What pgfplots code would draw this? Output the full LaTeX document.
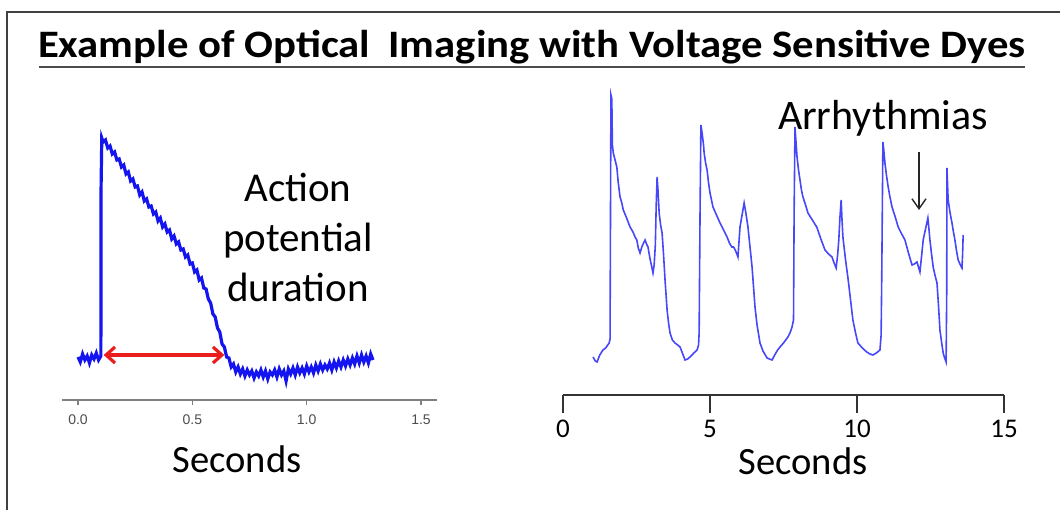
\documentclass[border=0pt]{standalone}
\usepackage{fontspec}
\setmainfont{Carlito}
\newfontfamily\arialfont{Liberation Sans}
\usepackage{pgfplots}
\pgfplotsset{compat=1.18}
\usetikzlibrary{arrows.meta}
\definecolor{apblue}{RGB}{20,20,240}
\definecolor{ecgblue}{RGB}{70,70,250}
\definecolor{apred}{RGB}{235,30,30}

\begin{document}
\begin{tikzpicture}[x=0.5bp,y=0.5bp]
\useasboundingbox (0,0) rectangle (1060,510);
% slide frame
\draw[line width=1.1bp, black!75] (7,0) -- (7,498) -- (1060,498);
% title
\node[anchor=base, inner sep=0pt] at (532,452)
  {\scalebox{1.155}[1.05]{\fontsize{18.5bp}{22bp}\selectfont\bfseries Example of Optical\hspace{0.2em} Imaging with Voltage Sensitive Dyes}};
\draw[line width=1bp, black!70] (39,443) -- (1025,443);

% left: single action potential
\begin{axis}[
    at={(31bp,55bp)}, anchor=south west,
    scale only axis, width=187.5bp, height=135bp,
    xmin=-0.07, xmax=1.57, ymin=0, ymax=270,
    axis x line=bottom, axis y line=none,
    x axis line style={-, gray, line width=1.2bp},
    xtick={0,0.5,1,1.5}, xticklabels={0.0,0.5,1.0,1.5},
    tick style={gray, line width=0.6bp}, tick align=outside,
    major tick length=2.5bp,
    xticklabel style={font=\arialfont\fontsize{7bp}{8bp}\selectfont, text=black!70, yshift=-1.5bp},
    /pgf/number format/assume math mode=true,
    clip=false,
]
\addplot[apblue, line width=1.6bp] coordinates {
(0.00,43) (0.01,38) (0.02,46) (0.03,40) (0.04,44) (0.05,37) (0.06,45) (0.07,41) (0.08,47) (0.09,40) (0.10,44)
(0.101,215) (0.104,262) (0.11,258) (0.12,260) (0.13,252) (0.14,254) (0.15,246) (0.16,248) (0.17,240) (0.18,241)
(0.19,233) (0.20,235) (0.21,226) (0.22,228) (0.23,219) (0.24,221) (0.25,213) (0.26,214) (0.27,205) (0.28,208)
(0.29,199) (0.30,201) (0.31,193) (0.32,194) (0.33,186) (0.34,188) (0.35,179) (0.36,182) (0.37,173) (0.38,176)
(0.39,168) (0.40,170) (0.41,161) (0.42,164) (0.43,156) (0.44,158) (0.45,150) (0.46,151) (0.47,143) (0.48,145)
(0.49,136) (0.50,137) (0.51,128) (0.52,130) (0.53,120) (0.54,122) (0.55,112) (0.56,111) (0.57,101) (0.58,97)
(0.59,86) (0.60,83) (0.61,72) (0.62,68) (0.63,56) (0.64,53) (0.65,43) (0.66,42) (0.67,33) (0.68,36)
(0.69,28) (0.70,33) (0.71,26) (0.72,31) (0.73,24) (0.74,30) (0.75,25) (0.76,29) (0.77,22) (0.78,28)
(0.79,24) (0.80,30) (0.81,23) (0.82,29) (0.83,21) (0.84,28) (0.85,25) (0.86,30) (0.87,23) (0.88,31)
(0.89,25) (0.90,29) (0.91,19) (0.92,31) (0.93,26) (0.94,32) (0.95,25) (0.96,33) (0.97,27) (0.98,32)
(0.99,26) (1.00,34) (1.01,28) (1.02,33) (1.03,27) (1.04,35) (1.05,29) (1.06,36) (1.07,30) (1.08,35)
(1.09,31) (1.10,37) (1.11,30) (1.12,38) (1.13,32) (1.14,39) (1.15,33) (1.16,40) (1.17,34) (1.18,41)
(1.19,35) (1.20,42) (1.21,36) (1.22,44) (1.23,37) (1.24,45) (1.25,38) (1.26,44) (1.27,37) (1.28,46) (1.29,40)
};
\draw[apred, line width=1.6bp, {Straight Barb[length=4.5bp,width=8bp]}-{Straight Barb[length=4.5bp,width=8bp]}]
  (axis cs:0.112,45) -- (axis cs:0.640,45);
\end{axis}
\node[align=center, anchor=base, font=\fontsize{20.5bp}{25bp}\selectfont] at (298,208)
  {Action\\potential\\duration};
\node[anchor=base, font=\fontsize{19.3bp}{23bp}\selectfont] at (237,37) {Seconds};

% right: train with arrhythmias
\begin{axis}[
    at={(281.5bp,57.5bp)}, anchor=south west,
    scale only axis, width=220.5bp, height=155bp,
    xmin=0, xmax=15, ymin=0, ymax=310,
    axis x line=bottom, axis y line=none,
    x axis line style={-, black!80, line width=1bp},
    xtick={0,5,10,15},
    tick style={black!80, line width=1bp}, tick align=outside,
    major tick length=9bp,
    xticklabel style={font=\fontsize{13.5bp}{16bp}\selectfont, text=black},
    /pgf/number format/assume math mode=true,
    clip=false,
]
\addplot[ecgblue, line width=0.8bp] coordinates {
(1.02,38) (1.10,34) (1.16,33) (1.25,40) (1.36,45) (1.45,47) (1.57,52) (1.60,56) (1.61,140) (1.63,300)
(1.66,296) (1.68,250) (1.71,242) (1.77,235) (1.83,228) (1.88,212) (1.94,198) (2.00,192) (2.05,185) (2.15,178)
(2.28,168) (2.38,163) (2.45,158) (2.51,155) (2.56,147) (2.62,142) (2.68,148) (2.74,152) (2.79,155) (2.84,151)
(2.89,148) (2.96,136) (3.02,128) (3.06,122) (3.10,130) (3.14,150) (3.17,190) (3.20,218) (3.23,205) (3.27,182)
(3.32,170) (3.37,162) (3.42,140) (3.47,115) (3.51,98) (3.54,85) (3.59,72) (3.64,62) (3.72,55) (3.81,52)
(3.90,50) (3.98,48) (4.06,42) (4.15,35) (4.24,36) (4.32,38) (4.45,42) (4.56,45) (4.61,50) (4.63,62)
(4.66,180) (4.69,270) (4.73,262) (4.78,250) (4.80,242) (4.85,232) (4.90,225) (4.95,212) (5.00,202) (5.05,195)
(5.10,188) (5.22,180) (5.34,172) (5.46,165) (5.58,158) (5.66,152) (5.74,148) (5.80,148) (5.84,146) (5.90,142)
(5.95,138) (5.99,155) (6.02,168) (6.09,180) (6.16,192) (6.22,182) (6.29,168) (6.36,148) (6.43,128) (6.48,108)
(6.53,88) (6.60,70) (6.70,52) (6.80,44) (6.94,37) (7.02,36) (7.11,35) (7.20,40) (7.30,45) (7.38,48)
(7.50,52) (7.65,58) (7.72,62) (7.79,68) (7.84,75) (7.86,180) (7.89,268) (7.92,255) (7.96,238) (8.01,225)
(8.06,215) (8.11,205) (8.16,198) (8.25,190) (8.33,182) (8.48,175) (8.63,168) (8.77,156) (8.91,145) (9.03,141)
(9.15,138) (9.22,132) (9.29,127) (9.34,140) (9.38,155) (9.42,178) (9.46,195) (9.49,175) (9.52,158) (9.61,135)
(9.70,115) (9.78,95) (9.86,75) (9.95,62) (10.03,52) (10.18,47) (10.33,43) (10.44,41) (10.54,40) (10.66,42)
(10.78,45) (10.82,60) (10.84,115) (10.88,253) (10.91,245) (10.95,232) (11.00,220) (11.06,208) (11.12,198) (11.19,188)
(11.30,178) (11.40,168) (11.52,161) (11.63,155) (11.75,142) (11.87,130) (11.95,131) (12.04,133) (12.09,128) (12.14,123)
(12.20,140) (12.25,155) (12.33,166) (12.41,177) (12.44,168) (12.48,155) (12.53,142) (12.59,128) (12.65,120) (12.72,112)
(12.77,90) (12.82,65) (12.88,52) (12.93,42) (12.98,37) (13.03,33) (13.05,100) (13.06,227) (13.08,210) (13.10,195)
(13.16,183) (13.23,172) (13.28,163) (13.33,155) (13.38,145) (13.44,135) (13.50,131) (13.57,127) (13.59,140) (13.61,160)
};
\end{axis}
\node[anchor=base, font=\fontsize{19.3bp}{23bp}\selectfont] at (803,35) {Seconds};
\node[anchor=base, font=\fontsize{21bp}{25bp}\selectfont] at (883,380) {Arrhythmias};
\draw[black!85, line width=0.7bp, -{Straight Barb[length=5bp,width=7bp]}] (919,358) -- (919,300);
\end{tikzpicture}
\end{document}
